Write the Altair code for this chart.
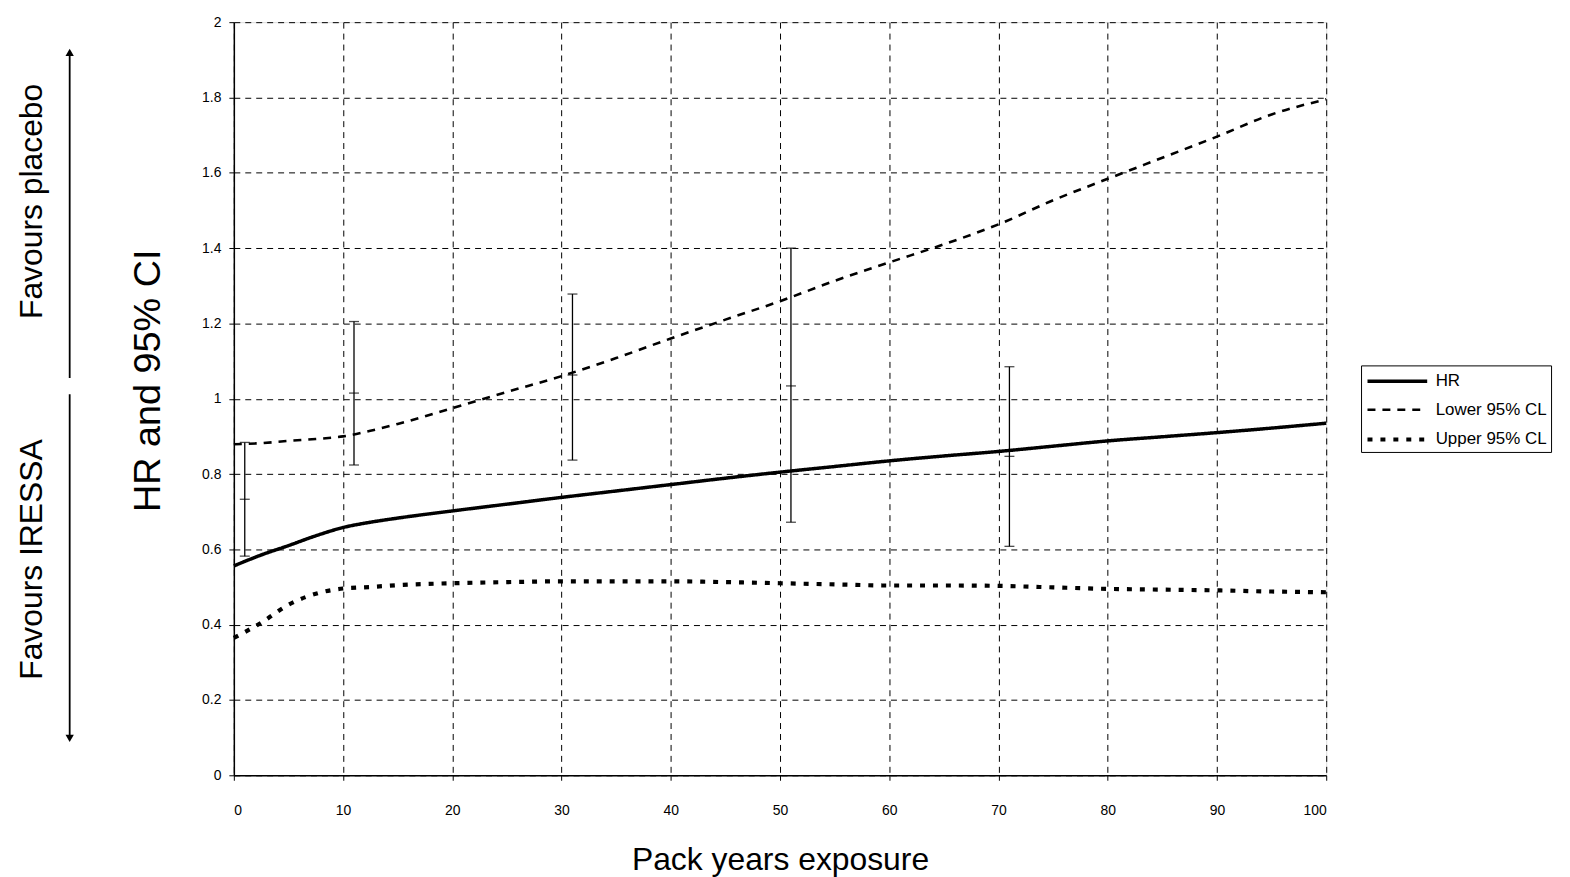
import altair as alt
import pandas as pd

# ---- data ----
pack_years = [0, 2.5, 5, 7.5, 10, 12.5, 15, 20, 25, 30, 35, 40, 45, 50,
              55, 60, 65, 70, 75, 80, 85, 90, 95, 100]
hr = [0.556, 0.585, 0.610, 0.636, 0.658, 0.672, 0.683, 0.702, 0.720, 0.738,
      0.755, 0.772, 0.789, 0.805, 0.820, 0.835, 0.848, 0.860, 0.874, 0.888,
      0.899, 0.910, 0.922, 0.935]
lower_cl = [0.879, 0.882, 0.888, 0.893, 0.900, 0.915, 0.933, 0.975, 1.018, 1.060,
            1.108, 1.160, 1.210, 1.259, 1.313, 1.362, 1.410, 1.463, 1.527, 1.584,
            1.640, 1.696, 1.755, 1.795]
upper_cl = [0.365, 0.405, 0.453, 0.482, 0.496, 0.500, 0.505, 0.510, 0.513, 0.515,
            0.515, 0.515, 0.513, 0.510, 0.507, 0.504, 0.504, 0.503, 0.499, 0.495,
            0.493, 0.491, 0.488, 0.486]
series_names = ["HR", "Lower 95% CL", "Upper 95% CL"]

eb_x = [1, 11, 31, 51, 71]
eb_lo = [0.582, 0.824, 0.837, 0.672, 0.608]
eb_mid = [0.733, 1.015, 1.063, 1.034, 0.847]
eb_hi = [0.884, 1.205, 1.278, 1.400, 1.085]

x_ticks = list(range(0, 101, 10))
y_ticks = [0, 0.2, 0.4, 0.6, 0.8, 1, 1.2, 1.4, 1.6, 1.8, 2]

fav_labels = ["Favours placebo", "Favours IRESSA"]
fav_label_y = [1.524, 0.573]
arrow_top = [1.92, 1.055]
arrow_bottom = [1.012, 0.098]

FONT = "Liberation Sans"

# ---- tables ----
rows = []
for name, vals in zip(series_names, [hr, lower_cl, upper_cl]):
    for xv, yv in zip(pack_years, vals):
        rows.append({"x": xv, "y": yv, "series": name})
curves = pd.DataFrame(rows)

eb = pd.DataFrame({"x": eb_x, "lo": eb_lo, "mid": eb_mid, "hi": eb_hi})
fav = pd.DataFrame({"label": fav_labels, "y": fav_label_y})
arrows = pd.DataFrame({"y": [arrow_top[0], arrow_bottom[0]],
                       "y2": [arrow_top[1], arrow_bottom[1]]})
heads = pd.DataFrame({"y": [arrow_top[0], arrow_bottom[1]],
                      "shape": ["triangle-up", "triangle-down"]})

xscale = alt.Scale(domain=[0, 100], nice=False, zero=False)
yscale = alt.Scale(domain=[0, 2], nice=False)

grid_kw = dict(grid=True, gridColor="black", gridDash=[6, 5], gridWidth=1,
               gridOpacity=1, domainColor="black", domainWidth=1.5,
               tickColor="black", labelColor="black", titleColor="black",
               labelFont=FONT, titleFont=FONT, titleFontWeight="normal")

xaxis = alt.Axis(values=x_ticks, title="Pack years exposure", format="d",
                 labelFontSize=14, labelPadding=23, titleFontSize=32,
                 titlePadding=28, tickSize=5, **grid_kw)
yaxis = alt.Axis(values=y_ticks, title="HR and 95% CI", format="~g",
                 labelFontSize=14, labelPadding=8, titleFontSize=38,
                 titlePadding=34, titleY=360, tickSize=5, **grid_kw)

base_x = alt.X("x:Q", scale=xscale, axis=xaxis)

legend_kw = dict(title=None, orient="none", legendX=1133, legendY=345,
                 symbolType="M-1,0H5", symbolSize=400,
                 labelFontSize=17, labelFont=FONT, labelColor="black",
                 labelOffset=46, strokeColor="black", fillColor="white",
                 padding=4, rowPadding=9, symbolStrokeColor="black")

lines = alt.Chart(curves).mark_line(color="black", interpolate="monotone").encode(
    x=base_x,
    y=alt.Y("y:Q", scale=yscale, axis=yaxis),
    strokeDash=alt.StrokeDash(
        "series:N",
        scale=alt.Scale(type="ordinal", domain=series_names,
                        range=[[1, 0], [8, 7], [5, 8]]),
        legend=alt.Legend(**legend_kw),
    ),
    strokeWidth=alt.StrokeWidth(
        "series:N",
        scale=alt.Scale(type="ordinal", domain=series_names, range=[3.5, 2.6, 4.2]),
        legend=alt.Legend(**legend_kw),
    ),
)

eb_rule = alt.Chart(eb).mark_rule(color="black", strokeWidth=1.3).encode(
    x=alt.X("x:Q", scale=xscale), y=alt.Y("lo:Q", scale=yscale), y2="hi:Q")

eb_ticks = alt.Chart(eb).transform_fold(["lo", "mid", "hi"], as_=["k", "v"]).mark_tick(
    color="black", orient="horizontal", size=10, thickness=1.3).encode(
    x=alt.X("x:Q", scale=xscale), y=alt.Y("v:Q", scale=yscale))

fav_text = alt.Chart(fav).mark_text(angle=270, font=FONT, fontSize=32,
                                    color="black", baseline="middle",
                                    align="center").encode(
    x=alt.value(-203), y=alt.Y("y:Q", scale=yscale), text="label:N")

arrow_rules = alt.Chart(arrows).mark_rule(color="black", strokeWidth=1.8).encode(
    x=alt.value(-165), y=alt.Y("y:Q", scale=yscale), y2="y2:Q")

arrow_heads = alt.Chart(heads).mark_point(filled=True, color="black", size=70,
                                          opacity=1).encode(
    x=alt.value(-165), y=alt.Y("y:Q", scale=yscale),
    shape=alt.Shape("shape:N", scale=None, legend=None))

chart = alt.layer(lines, eb_rule, eb_ticks, fav_text, arrow_rules, arrow_heads).properties(
    width=1098, height=757,
    autosize=alt.AutoSizeParams(type="none"),
    padding={"left": 227, "top": 12, "right": 237, "bottom": 100},
).configure_view(
    stroke="black", strokeWidth=1.5
).configure(background="white")

chart.save("out.html", embed_options={"renderer": "svg", "actions": False})
